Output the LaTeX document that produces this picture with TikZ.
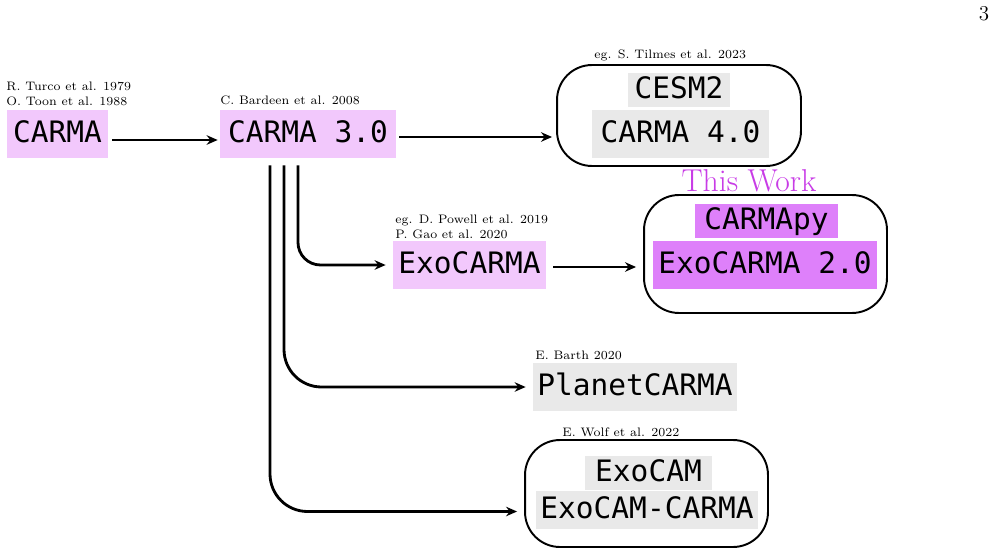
\documentclass[tikz,border=0pt]{standalone}
\usepackage{fontspec}
\usepackage{xcolor}
\usetikzlibrary{arrows.meta, positioning}
\newfontfamily\codefont{DejaVu Sans Mono}
\definecolor{carmapink}{RGB}{242,200,252}
\definecolor{workpink}{RGB}{222,128,250}
\definecolor{workmagenta}{RGB}{200,60,230}
\definecolor{othergray}{RGB}{233,233,233}

\begin{document}
\begin{tikzpicture}[x=0.02cm, y=-0.02cm,
  model/.style={inner sep=0pt, minimum height=0.96cm, align=center,
    font=\codefont\fontsize{16.8}{18}\selectfont, text height=12pt, text depth=2.6pt},
  small/.style={model, minimum height=0.68cm},
  group/.style={draw, line width=1.1pt, rounded corners=0.7cm, inner sep=0pt},
  cite/.style={inner sep=0pt, anchor=base west, font=\fontsize{7}{8}\selectfont},
  arr/.style={-{Stealth[length=2.2mm, width=1.9mm]}, line width=1.6pt},
  branch/.style={arr, rounded corners=0.75cm, shorten <=0.14cm, shorten >=0.14cm}]
  \useasboundingbox (0,0) rectangle (996,554);
  \node[inner sep=0pt, anchor=base, font=\fontsize{12}{14}\selectfont] (page) at (984,21) {3};

  % containers
  \node[group, minimum width=4.88cm, minimum height=2.02cm] (cesm)   at (679,115.5) {};
  \node[group, minimum width=4.86cm, minimum height=2.36cm] (work)   at (765.5,254) {};
  \node[group, minimum width=4.86cm, minimum height=2.14cm] (exocam) at (646.5,493.5) {};

  % models
  \node[model, fill=carmapink, minimum width=2.02cm]  (carma)    at (57.5,134) {CARMA};
  \node[model, fill=carmapink, minimum width=3.52cm]  (carma3)   at (308,134) {CARMA 3.0};
  \node[small, fill=othergray, minimum width=2.04cm]  (cesm2)    at (679,90) {CESM2};
  \node[model, fill=othergray, minimum width=3.54cm]  (carma4)   at (680.5,134) {CARMA 4.0};
  \node[model, fill=carmapink, minimum width=3.06cm]  (exocarma) at (469.5,265) {ExoCARMA};
  \node[small, fill=workpink, minimum width=2.86cm]   (carmapy)  at (766.5,221) {CARMApy};
  \node[model, fill=workpink, minimum width=4.48cm]   (exocarma2) at (765,265) {ExoCARMA 2.0};
  \node[model, fill=othergray, minimum width=4.08cm]  (planet)   at (635,387) {PlanetCARMA};
  \node[small, fill=othergray, minimum width=2.54cm]  (exocam1)  at (648.5,473) {ExoCAM};
  \node[small, fill=othergray, minimum width=4.44cm, minimum height=0.76cm] (exocam2) at (647,510) {ExoCAM-CARMA};

  % references
  \node[cite] (turco)   at (6,91)    {R. Turco et al. 1979};
  \node[cite] (toon)    at (6,106)   {O. Toon et al. 1988};
  \node[cite] (bardeen) at (220,105) {C. Bardeen et al. 2008};
  \node[cite] (tilmes)  at (594,59)  {eg. S. Tilmes et al. 2023};
  \node[cite] (powell)  at (395,223) {eg. D. Powell et al. 2019};
  \node[cite] (gao)     at (395,238) {P. Gao et al. 2020};
  \node[cite] (barth)   at (535,359) {E. Barth 2020};
  \node[cite] (wolf)    at (562,436) {E. Wolf et al. 2022};
  \node[inner sep=0pt, anchor=base, text=workmagenta, font=\fontsize{18}{20}\selectfont] (thiswork) at (749,191) {This Work};

  % connections
  \draw[arr, shorten <=0.08cm, shorten >=0.04cm] ([yshift=-0.12cm]carma.east) -- ([yshift=-0.12cm]carma3.west);
  \draw[arr, shorten <=0.06cm, shorten >=0.08cm] ([yshift=-0.06cm]carma3.east) -- ([yshift=-0.06cm]carma3.east -| cesm.west);
  \draw[arr, shorten <=0.14cm, shorten >=0.14cm] ([yshift=-0.04cm]exocarma.east) -- ([yshift=-0.04cm]exocarma.east -| work.west);
  \draw[branch, rounded corners=0.45cm] ([xshift=-0.2cm]carma3.south) |- (exocarma.west);
  \draw[branch] ([xshift=-0.48cm]carma3.south) |- (planet.west);
  \draw[branch] ([xshift=-0.76cm]carma3.south) |- ([yshift=-0.36cm]exocam.west);
\end{tikzpicture}
\end{document}
